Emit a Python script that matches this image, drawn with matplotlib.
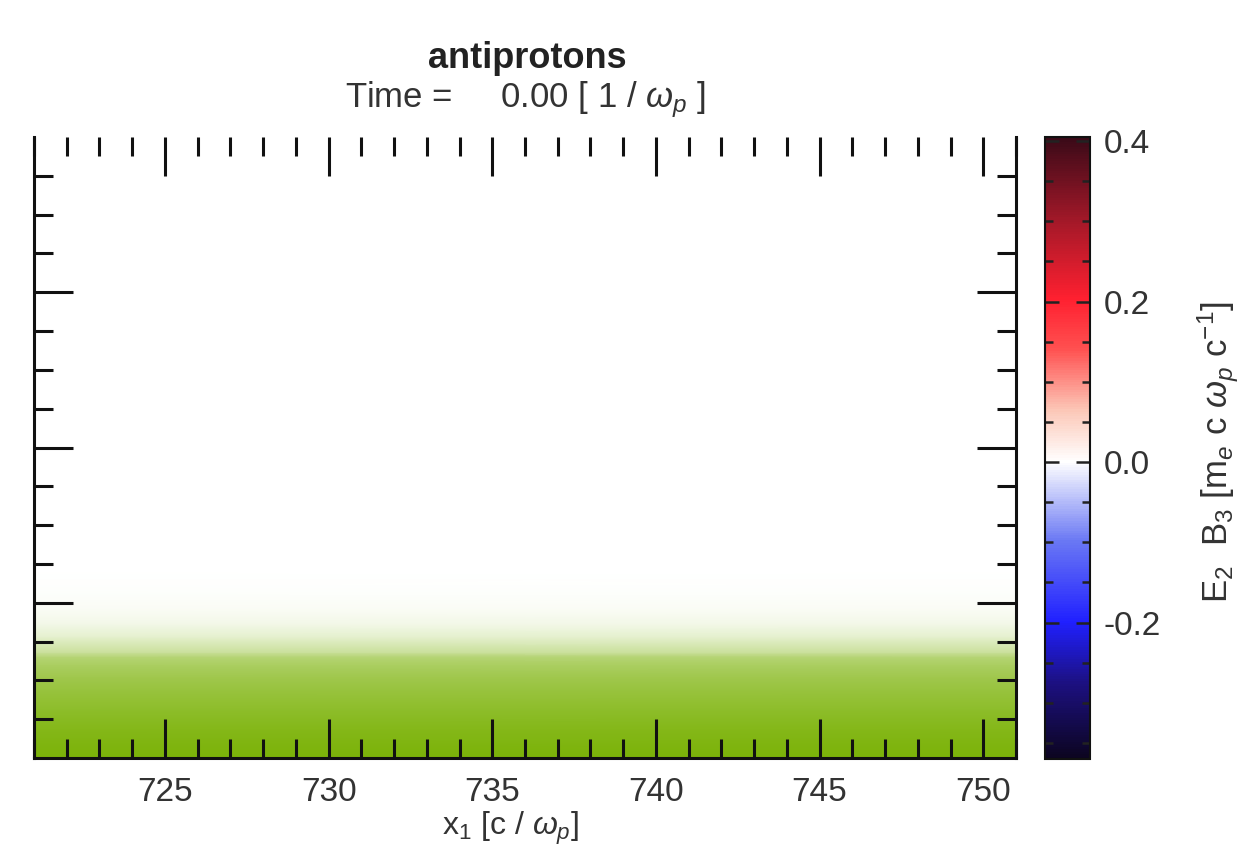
import numpy as np
import matplotlib
matplotlib.use('Agg')
import matplotlib.pyplot as plt
from matplotlib.colors import LinearSegmentedColormap, Normalize
from matplotlib.ticker import MultipleLocator, FixedLocator
import matplotlib.cm as cm

plt.rcParams['font.family'] = ['Liberation Sans', 'DejaVu Sans']
plt.rcParams['mathtext.fontset'] = 'custom'
plt.rcParams['mathtext.rm'] = 'Liberation Sans'
plt.rcParams['mathtext.it'] = 'Liberation Sans:italic'

# ---- data ----
x_range = [721.0, 751.0]
y_range = [0.0, 20.0]
profile_y = [0.0, 0.9, 1.55, 2.2, 2.6, 3.0, 3.25, 3.4, 3.9, 4.3, 4.8, 5.4, 6.1, 20.0]
profile_density = [1.0, 0.93, 0.86, 0.78, 0.72, 0.64, 0.56, 0.40, 0.20, 0.10, 0.04, 0.015, 0.0, 0.0]
x_major_ticks = [725, 730, 735, 740, 745, 750]
y_major_ticks = [5, 10, 15]
y_minor_ticks = [1.25, 2.5, 3.75, 6.25, 7.5, 8.75, 11.25, 12.5, 13.75, 16.25, 17.5, 18.75]
cbar_range = [-0.37, 0.405]
cbar_ticks = [-0.2, 0.0, 0.2, 0.4]
cbar_ticklabels = ['-0.2', '0.0', '0.2', '0.4']

# ---- figure ----
fig = plt.figure(figsize=(12.55, 8.61), dpi=100)
W, H = 1255, 861
ax = fig.add_axes([34 / W, (H - 758) / H, (1016 - 34) / W, (758 - 137) / H])

green = LinearSegmentedColormap.from_list('dens', ['#ffffff', '#7bb208'], N=256)
X, Y = np.meshgrid(np.array(x_range), np.array(profile_y))
C = np.tile(np.array(profile_density)[:, None], (1, 2))
ax.pcolormesh(X, Y, C, shading='gouraud', cmap=green, vmin=0, vmax=1)
ax.set_xlim(*x_range)
ax.set_ylim(*y_range)

ax.xaxis.set_major_locator(FixedLocator(x_major_ticks))
ax.xaxis.set_minor_locator(MultipleLocator(1))
ax.yaxis.set_major_locator(FixedLocator(y_major_ticks))
ax.yaxis.set_minor_locator(FixedLocator(y_minor_ticks))
ax.spines['top'].set_visible(False)
for s in ['left', 'right', 'bottom']:
    ax.spines[s].set_linewidth(2.2)
    ax.spines[s].set_color('#111111')
ax.tick_params(which='both', direction='in', top=True, right=True, left=True, bottom=True,
               color='#111111', width=2.2)
ax.tick_params(which='major', length=28)
ax.tick_params(which='minor', length=14)
ax.tick_params(axis='y', labelleft=False)
ax.tick_params(axis='x', labelsize=24, labelcolor='#333333', pad=14)
ax.set_xticklabels([str(t) for t in x_major_ticks])

# ---- colorbar ----
cax = fig.add_axes([1045 / W, (H - 759) / H, 45 / W, (759 - 137) / H])
div = LinearSegmentedColormap.from_list('div', [
    (0.0, '#0c0520'),
    (0.12, '#1c1080'),
    (0.22, '#2020ff'),
    (0.35, '#6a78f4'),
    (0.478, '#ffffff'),
    (0.56, '#fcc8b8'),
    (0.66, '#ff5050'),
    (0.74, '#ff2030'),
    (0.87, '#a01828'),
    (1.0, '#3a0a18'),
], N=256)
norm = Normalize(vmin=cbar_range[0], vmax=cbar_range[1])
sm = cm.ScalarMappable(norm=norm, cmap=div)
cb = fig.colorbar(sm, cax=cax, orientation='vertical')
cb.outline.set_linewidth(1.5)
cb.outline.set_edgecolor('#111111')
cax.yaxis.set_major_locator(FixedLocator(cbar_ticks))
cax.yaxis.set_minor_locator(MultipleLocator(0.05))
cax.set_yticklabels(cbar_ticklabels)
cax.tick_params(which='both', direction='in', left=True, right=True, color='#222222', width=1.8)
cax.tick_params(which='major', length=10)
cax.tick_params(which='minor', length=6)
cax.tick_params(axis='y', labelsize=24, labelcolor='#333333', pad=10)

# ---- text ----
fig.text(527 / W, 1 - 58 / H, 'antiprotons', ha='center', va='center', fontsize=26,
         fontweight='bold', color='#222222')
fig.text(525 / W, 1 - 100 / H, r'Time =     0.00 [ 1 / $\omega_p$ ]', ha='center', va='center',
         fontsize=25, color='#333333')
fig.text(510 / W, 1 - 828 / H, r'x$_1$ [c / $\omega_p$]', ha='center', va='center',
         fontsize=23, color='#333333')
fig.text(1218 / W, 1 - 452 / H, r'E$_2$  B$_3$ [m$_e$ c $\omega_p$ c$^{-1}$]', ha='center',
         va='center', rotation=90, fontsize=25, color='#333333')

fig.savefig('out.png', dpi=100)
